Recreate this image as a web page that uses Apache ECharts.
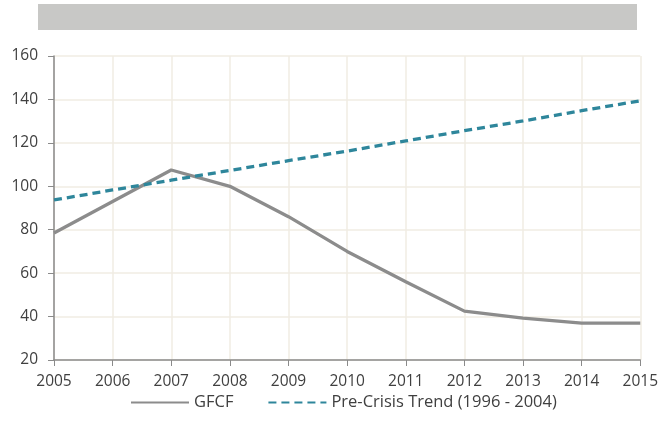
<!DOCTYPE html>
<html>
<head>
<meta charset="utf-8">
<script src="https://cdn.jsdelivr.net/npm/echarts@6/dist/echarts.min.js"></script>
<style>html,body{margin:0;padding:0;background:#fff}#c{width:661px;height:445px}</style>
</head>
<body>
<div id="c"></div>
<script>
var years = ['2005','2006','2007','2008','2009','2010','2011','2012','2013','2014','2015'];
var gfcf = [78.5, 93, 107.5, 100, 86, 70, 56, 42.5, 39.3, 37, 37];
var trend = [93.7, 98.3, 102.8, 107.3, 111.8, 116.2, 120.9, 125.6, 130.1, 134.8, 139.4];
var yTicks = {min: 20, max: 160, interval: 20};

var chart = echarts.init(document.getElementById('c'));
var font = '"Open Sans", "Noto Sans", sans-serif';
chart.setOption({
  animation: false,
  textStyle: {fontFamily: font},
  graphic: [{
    type: 'rect', left: 38, top: 4,
    shape: {width: 599, height: 26},
    style: {fill: '#c8c8c6'}
  }],
  grid: {left: 54, right: 20, top: 56, bottom: 85, containLabel: false},
  legend: {
    bottom: 29, left: 125,
    itemWidth: 58, itemHeight: 10, itemGap: 34,
    itemStyle: {opacity: 0},
    textStyle: {fontSize: 16.5, color: '#404040', fontFamily: font},
    data: ['GFCF', 'Pre-Crisis Trend (1996 - 2004)']
  },
  xAxis: {
    type: 'category', data: years, boundaryGap: false,
    axisLine: {lineStyle: {color: '#8a8a8a', width: 1.5}},
    axisTick: {show: true, length: 6, lineStyle: {color: '#8a8a8a'}},
    axisLabel: {fontSize: 15.5, color: '#404040', margin: 14, fontFamily: font},
    splitLine: {show: true, lineStyle: {color: '#f0ede3', width: 1.5}}
  },
  yAxis: {
    type: 'value', min: yTicks.min, max: yTicks.max, interval: yTicks.interval,
    axisLine: {show: true, lineStyle: {color: '#8a8a8a', width: 1.5}},
    axisTick: {show: true, length: 6, lineStyle: {color: '#8a8a8a'}},
    axisLabel: {fontSize: 15.5, color: '#404040', margin: 16, fontFamily: font},
    splitLine: {show: true, lineStyle: {color: '#f0ede3', width: 1.5}}
  },
  series: [{
    name: 'GFCF', type: 'line', data: gfcf, symbol: 'none',
    lineStyle: {color: '#8c8c8c', width: 3.3},
    itemStyle: {color: '#8c8c8c'}
  }, {
    name: 'Pre-Crisis Trend (1996 - 2004)', type: 'line', data: trend, symbol: 'none',
    lineStyle: {color: '#2e869b', width: 3.3, type: [8, 5]},
    itemStyle: {color: '#2e869b'}
  }]
});
</script>
</body>
</html>
